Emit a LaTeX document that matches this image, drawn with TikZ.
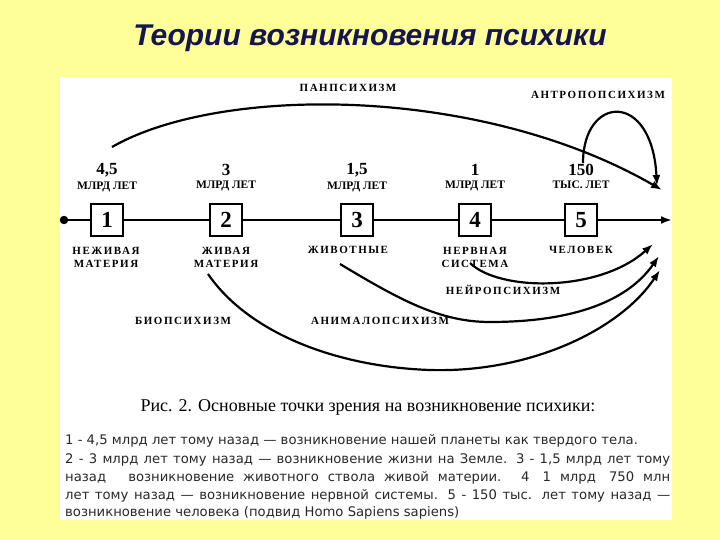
\documentclass[tikz,border=0pt]{standalone}
\usepackage{fontspec}
\setmainfont{Liberation Serif}
\newfontfamily\titlefont{Liberation Sans}
\newfontfamily\capfont[LetterSpace=14]{Liberation Serif}
\newfontfamily\parfont{DejaVu Sans}
\usepackage{tikz}
\usetikzlibrary{arrows.meta,positioning}
\definecolor{slideyellow}{RGB}{255,255,153}
\definecolor{titlenavy}{RGB}{22,22,78}
\definecolor{partext}{RGB}{40,40,40}

\begin{document}
\begin{tikzpicture}[x=1pt,y=-1pt,
  numbox/.style={draw,line width=2pt,fill=white,minimum width=32pt,minimum height=32pt,
                 inner sep=0pt,font=\bfseries\fontsize{23}{23}\selectfont},
  age/.style={font=\bfseries\fontsize{17}{17}\selectfont,inner sep=0pt},
  unit/.style={font=\bfseries\fontsize{11.5}{11.5}\selectfont,inner sep=0pt},
  stage/.style={font=\capfont\bfseries\fontsize{11}{13}\selectfont,align=center,inner sep=0pt},
  theory/.style={font=\capfont\bfseries\fontsize{11}{11}\selectfont,inner sep=0pt},
  arrow/.style={-{Latex[length=11pt,width=8pt]},line width=2.2pt},
  parline/.style={anchor=west,inner sep=0pt,text=partext,font=\parfont\fontsize{13.2}{13.2}\selectfont}
]
  \useasboundingbox (0,0) rectangle (720,540);
  \fill[slideyellow] (0,0) rectangle (720,540);
  \fill[white] (60,77) rectangle (672,520);

  \node[font=\titlefont\bfseries\itshape\fontsize{30}{30}\selectfont,text=titlenavy] (title) at (370,38)
    {Теории возникновения психики};

  % timeline
  \node[circle,fill,inner sep=3pt] (start) at (64,220) {};
  \coordinate (end) at (672,220);
  \node[numbox] (b1) at (107,220) {1};
  \node[numbox] (b2) at (226,220) {2};
  \node[numbox] (b3) at (357,220) {3};
  \node[numbox] (b4) at (475,220) {4};
  \node[numbox] (b5) at (581,220) {5};
  \draw[line width=2.2pt] (start) -- (b1) -- (b2) -- (b3) -- (b4) -- (b5);
  \draw[-{Latex[length=11pt,width=8pt]},line width=2.2pt] (b5) -- (end);

  % ages
  \node[age] (a1) at (107,170) {4,5};
  \node[age] (a2) at (226,170) {3};
  \node[age] (a3) at (357,170) {1,5};
  \node[age] (a4) at (475,170) {1};
  \node[age] (a5) at (581,170) {150};
  \node[unit,below=5pt of a1] (u1) {МЛРД ЛЕТ};
  \node[unit,below=5pt of a2] (u2) {МЛРД ЛЕТ};
  \node[unit,below=5pt of a3] (u3) {МЛРД ЛЕТ};
  \node[unit,below=5pt of a4] (u4) {МЛРД ЛЕТ};
  \node[unit,below=5pt of a5] (u5) {ТЫС. ЛЕТ};

  % stages
  \node[stage] (s1) at (106,257) {НЕЖИВАЯ\\МАТЕРИЯ};
  \node[stage] (s2) at (226,257) {ЖИВАЯ\\МАТЕРИЯ};
  \node[stage] (s3) at (348,250) {ЖИВОТНЫЕ};
  \node[stage] (s4) at (475,257) {НЕРВНАЯ\\СИСТЕМА};
  \node[stage] (s5) at (581,250) {ЧЕЛОВЕК};

  % theories
  \node[theory] (pan) at (348,88) {ПАНПСИХИЗМ};
  \node[theory] (anthro) at (598,95) {АНТРОПОПСИХИЗМ};
  \node[theory] (neuro) at (503,290) {НЕЙРОПСИХИЗМ};
  \node[theory] (bio) at (183,321) {БИОПСИХИЗМ};
  \node[theory] (animal) at (380,321) {АНИМАЛОПСИХИЗМ};

  \coordinate (panfrom) at (112,147);
  \coordinate (anthrofrom) at (583,163);
  \coordinate (neurofrom) at (470,263);
  \coordinate (animalfrom) at (340,264);
  \coordinate (biofrom) at (208,274);
  \coordinate (topto) at (662,190);
  \coordinate (anthroto) at (657,186);
  \coordinate (neuroto) at (653,244);
  \coordinate (animalto) at (659,256);
  \coordinate (bioto) at (660,270);

  \draw[arrow] (panfrom) .. controls (220,85) and (480,85) .. (topto);
  \draw[arrow] (anthrofrom) .. controls (583,95) and (652,90) .. (anthroto);
  \draw[arrow] (neurofrom) .. controls (500,292) and (600,292) .. (neuroto);
  \draw[arrow] (animalfrom) .. controls (400,300) and (440,322) .. (490,322)
                            .. controls (565,322) and (625,305) .. (animalto);
  \draw[arrow] (biofrom) .. controls (250,335) and (340,367) .. (430,370)
                         .. controls (530,373) and (620,330) .. (bioto);

  % caption
  \node[font=\fontsize{18}{18}\selectfont] (caption) at (368,407)
    {Рис. 2. Основные точки зрения на возникновение психики:};
  \node[parline] (p1) at (65,441)
    {1 - 4,5 млрд лет тому назад — возникновение нашей планеты как твердого тела.};
  \node[parline] (p2) at (65,460)
    {\makebox[605pt][s]{2 - 3 млрд лет тому назад — возникновение жизни на Земле. 3 - 1,5 млрд лет тому}};
  \node[parline] (p3) at (65,478)
    {\makebox[605pt][s]{назад\quad\ возникновение животного ствола живой материи. 4\quad 1 млрд\quad 750 млн}};
  \node[parline] (p4) at (65,496)
    {\makebox[605pt][s]{лет тому назад — возникновение нервной системы. 5 - 150 тыс. лет тому назад —}};
  \node[parline] (p5) at (65,513)
    {возникновение человека (подвид Homo Sapiens sapiens)};
\end{tikzpicture}
\end{document}
